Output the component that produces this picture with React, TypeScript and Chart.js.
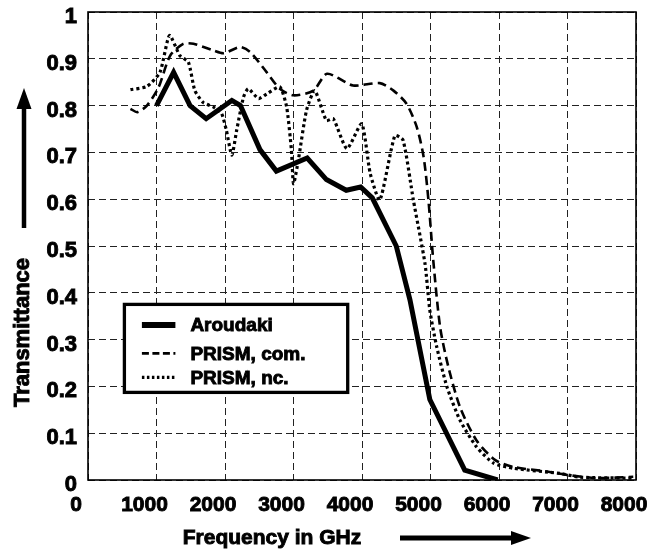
import React, { useEffect, useRef } from "react";
import { Chart, registerables } from "chart.js";

Chart.register(...registerables);

const FONT = "'Liberation Sans', Arial, Helvetica, sans-serif";

// Aroudaki (solid, thick)
const aroudakiFreq = [1000, 1250, 1490, 1725, 2100, 2225, 2510, 2750, 3200, 3480, 3770, 3980, 4150, 4500, 4700, 4990, 5500, 5980];
const aroudakiT = [0.80, 0.871, 0.80, 0.772, 0.811, 0.80, 0.706, 0.66, 0.688, 0.642, 0.619, 0.626, 0.603, 0.50, 0.385, 0.172, 0.021, 0.0];

// PRISM, com. (dashed)
const prismComFreq = [620, 720, 860, 1030, 1200, 1390, 1540, 1830, 1980, 2220, 2370, 2610, 2800, 3000, 3290, 3490, 3870, 4260, 4460, 4650, 4800, 4900, 4970, 5040, 5140, 5260, 5430, 5670, 5940, 6210, 6700, 6990, 7430, 7960];
const prismComT = [0.793, 0.786, 0.80, 0.839, 0.907, 0.932, 0.932, 0.918, 0.912, 0.925, 0.914, 0.871, 0.836, 0.822, 0.832, 0.868, 0.843, 0.848, 0.832, 0.804, 0.754, 0.69, 0.598, 0.47, 0.327, 0.242, 0.156, 0.085, 0.043, 0.028, 0.018, 0.011, 0.004, 0.007];

// PRISM, nc. (dotted)
const prismNcFreq = [620, 860, 1050, 1190, 1340, 1465, 1560, 1680, 1830, 1950, 2020, 2100, 2170, 2270, 2340, 2490, 2610, 2800, 2900, 2970, 3000, 3070, 3190, 3310, 3480, 3580, 3780, 3995, 4120, 4260, 4480, 4600, 4750, 4920, 4990, 5090, 5240, 5430, 5670, 5920, 6210, 6890, 7180, 7960];
const prismNcT = [0.834, 0.841, 0.871, 0.95, 0.907, 0.893, 0.832, 0.807, 0.797, 0.783, 0.747, 0.694, 0.747, 0.818, 0.836, 0.815, 0.825, 0.84, 0.797, 0.704, 0.633, 0.683, 0.79, 0.832, 0.768, 0.772, 0.708, 0.761, 0.655, 0.598, 0.736, 0.726, 0.598, 0.462, 0.363, 0.285, 0.199, 0.128, 0.071, 0.036, 0.025, 0.014, 0.006, 0.004];

const seriesLabels = ["Aroudaki", "PRISM, com.", "PRISM, nc."];

const xTickValues = [0, 1000, 2000, 3000, 4000, 5000, 6000, 7000, 8000];
const xTickLabels = ["0", "1000", "2000", "3000", "4000", "5000", "6000", "7000", "8000"];
const yTickValues = [0, 0.1, 0.2, 0.3, 0.4, 0.5, 0.6, 0.7, 0.8, 0.9, 1];
const yTickLabels = ["0", "0.1", "0.2", "0.3", "0.4", "0.5", "0.6", "0.7", "0.8", "0.9", "1"];

const xTitle = "Frequency in GHz";
const yTitle = "Transmittance";

const toPoints = (xs: number[], ys: number[]) => xs.map((x, i) => ({ x, y: ys[i] }));

const boldText = (ctx: any, text: string, x: number, y: number) => {
  ctx.fillText(text, x, y);
  ctx.lineWidth = 0.9;
  ctx.setLineDash([]);
  ctx.strokeText(text, x, y);
};

const decorPlugin = {
  id: "decor",
  afterDatasetsDraw(chart: any) {
    const { ctx, chartArea } = chart;
    const { left, right, top, bottom } = chartArea;
    ctx.save();
    // frame
    ctx.setLineDash([]);
    ctx.strokeStyle = "#000";
    ctx.lineWidth = 1.6;
    ctx.strokeRect(left, top, right - left, bottom - top);

    // legend box
    const bx = left + 36.4;
    const by = top + 292.4;
    const bw = 223.3;
    const bh = 88;
    ctx.fillStyle = "#fff";
    ctx.fillRect(bx, by, bw, bh);
    ctx.lineWidth = 3.3;
    ctx.strokeRect(bx, by, bw, bh);

    const ds = chart.data.datasets;
    const rowsY = [by + 20.6, by + 49, by + 73];
    ds.forEach((d: any, i: number) => {
      const y = rowsY[i];
      ctx.beginPath();
      ctx.lineWidth = i === 0 ? 6 : d.borderWidth;
      ctx.setLineDash(i === 0 ? [] : i === 1 ? [7, 3.5] : [2.5, 2.5]);
      ctx.strokeStyle = "#000";
      ctx.moveTo(bx + 17.5, y);
      ctx.lineTo(bx + 51, y);
      ctx.stroke();
      ctx.setLineDash([]);
      ctx.fillStyle = "#000";
      ctx.font = `bold 19px ${FONT}`;
      ctx.textAlign = "left";
      ctx.textBaseline = "middle";
      boldText(ctx, d.label, bx + 66, y + 1);
    });

    // x title + arrow
    ctx.font = `bold 21px ${FONT}`;
    ctx.textAlign = "center";
    ctx.textBaseline = "middle";
    ctx.fillStyle = "#000";
    boldText(ctx, xTitle, 272, 538);
    ctx.lineWidth = 5;
    ctx.beginPath();
    ctx.moveTo(400, 538);
    ctx.lineTo(514, 538);
    ctx.stroke();
    ctx.beginPath();
    ctx.moveTo(511, 531);
    ctx.lineTo(531, 538);
    ctx.lineTo(511, 545);
    ctx.closePath();
    ctx.fill();

    // y title + arrow
    ctx.save();
    ctx.translate(23, 332.5);
    ctx.rotate(-Math.PI / 2);
    ctx.font = `bold 22px ${FONT}`;
    boldText(ctx, yTitle, 0, 0);
    ctx.restore();
    ctx.lineWidth = 4.5;
    ctx.beginPath();
    ctx.moveTo(24, 228);
    ctx.lineTo(24, 106);
    ctx.stroke();
    ctx.beginPath();
    ctx.moveTo(16.5, 109);
    ctx.lineTo(24, 88);
    ctx.lineTo(31.5, 109);
    ctx.closePath();
    ctx.fill();
    ctx.restore();
  },
};

export default function App() {
  const ref = useRef<HTMLCanvasElement | null>(null);
  useEffect(() => {
    document.body.style.margin = "0";
    if (!ref.current) return;
    const chart = new Chart(ref.current, {
      type: "line",
      data: {
        datasets: [
          {
            label: seriesLabels[0],
            data: toPoints(aroudakiFreq, aroudakiT),
            borderColor: "#000",
            borderWidth: 5,
            pointRadius: 0,
            tension: 0,
            borderJoinStyle: "miter",
            fill: false,
          },
          {
            label: seriesLabels[1],
            data: toPoints(prismComFreq, prismComT),
            borderColor: "#000",
            borderWidth: 2.6,
            borderDash: [9, 5],
            pointRadius: 0,
            tension: 0.25,
            fill: false,
          },
          {
            label: seriesLabels[2],
            data: toPoints(prismNcFreq, prismNcT),
            borderColor: "#000",
            borderWidth: 3.2,
            borderDash: [3, 3],
            pointRadius: 0,
            tension: 0.2,
            fill: false,
          },
        ],
      },
      options: {
        responsive: false,
        animation: false,
        layout: { padding: { top: 12, right: 14, left: 0, bottom: 0 } },
        plugins: { legend: { display: false }, tooltip: { enabled: false } },
        scales: {
          x: {
            type: "linear",
            min: 0,
            max: 8000,
            afterBuildTicks: (s: any) => {
              s.ticks = xTickValues.map((v) => ({ value: v }));
            },
            afterFit: (s: any) => {
              s.height = 71;
              s.paddingLeft = 0;
              s.paddingRight = 0;
            },
            ticks: {
              autoSkip: false,
              maxRotation: 0,
              padding: 13,
              labelOffset: -12,
              color: "#000",
              textStrokeColor: "#000",
              textStrokeWidth: 0.9,
              font: { family: FONT, size: 21, weight: "bold" },
              callback: (_v: any, i: number) => xTickLabels[i],
            },
            grid: { color: "#222", lineWidth: 1, drawTicks: false },
            border: { display: false, dash: [7, 4] },
          },
          y: {
            type: "linear",
            min: 0,
            max: 1,
            afterBuildTicks: (s: any) => {
              s.ticks = yTickValues.map((v) => ({ value: v }));
            },
            afterFit: (s: any) => {
              s.width = 88;
              s.paddingTop = 0;
              s.paddingBottom = 0;
            },
            ticks: {
              autoSkip: false,
              padding: 11,
              labelOffset: 5,
              color: "#000",
              textStrokeColor: "#000",
              textStrokeWidth: 0.9,
              font: { family: FONT, size: 22, weight: "bold" },
              callback: (_v: any, i: number) => yTickLabels[i],
            },
            grid: { color: "#222", lineWidth: 1, drawTicks: false },
            border: { display: false, dash: [7, 4] },
          },
        },
      },
      plugins: [decorPlugin],
    });
    return () => chart.destroy();
  }, []);
  return <canvas ref={ref} width={650} height={551} style={{ display: "block" }} />;
}
